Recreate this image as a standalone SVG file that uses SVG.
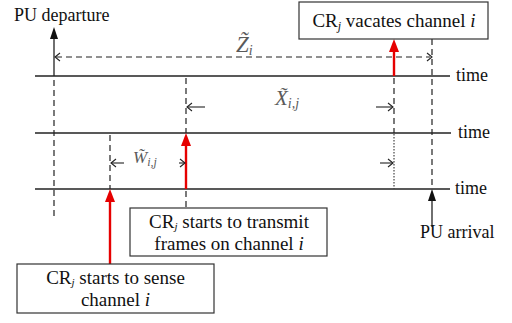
<svg xmlns="http://www.w3.org/2000/svg" width="512" height="323" viewBox="0 0 512 323">
<style>
text{fill:#111;font-family:'Liberation Serif','Times New Roman',serif !important}
.lbl{font-size:18px}
.bx{font-size:19px}
.math{font-style:italic;fill:#5a5a5a}
.tl{stroke:#222;stroke-width:1.3;fill:none}
.dash{stroke:#222;stroke-width:1.2;stroke-dasharray:6 4;fill:none}
.dot{stroke:#444;stroke-width:1.2;stroke-dasharray:1.5 1.5;fill:none}
.thin{stroke:#222;stroke-width:1.1;fill:none}
.red{stroke:#e60000;stroke-width:2.4;fill:none}
.box{fill:#fff;stroke:#333;stroke-width:1.2}
</style>
<g id="timelines">
<line class="tl" x1="35" y1="76" x2="450" y2="76"/>
<line class="tl" x1="35" y1="133" x2="451" y2="133"/>
<line class="tl" x1="35" y1="189" x2="450" y2="189"/>
<text class="lbl" x="456" y="81" style="font-family:'Liberation Serif',serif">time</text>
<text class="lbl" x="458" y="138" style="font-family:'Liberation Serif',serif">time</text>
<text class="lbl" x="455" y="194" style="font-family:'Liberation Serif',serif">time</text>
</g>
<g id="connectors">
<line class="tl" x1="54" y1="36" x2="54" y2="76"/>
<path d="M50,39 L54,27 L58,39 Z" fill="#111"/>
<line class="dash" x1="54" y1="80" x2="54" y2="220"/>
<line class="dash" x1="56" y1="57" x2="430" y2="57"/>
<path class="thin" d="M60,53 L55,57 L60,61"/>
<path class="thin" d="M427,53 L432,57 L427,61"/>
<line class="dash" x1="432" y1="39" x2="432" y2="189"/>
<line class="tl" x1="432" y1="198" x2="432" y2="227"/>
<path d="M428,201 L432,189 L436,201 Z" fill="#111"/>
<line class="red" x1="394" y1="76" x2="394" y2="50"/>
<path d="M389,52 L394,39 L399,52 Z" fill="#e60000"/>
<line class="dash" x1="394" y1="78" x2="394" y2="133"/>
<line class="dot" x1="394" y1="134" x2="394" y2="189"/>
<line class="thin" x1="187" y1="107" x2="205" y2="107"/>
<path class="thin" d="M192,103 L187,107 L192,111"/>
<line class="thin" x1="376" y1="107" x2="393" y2="107"/>
<path class="thin" d="M388,103 L393,107 L388,111"/>
<line class="dash" x1="186" y1="78" x2="186" y2="133"/>
<line class="red" x1="186" y1="189" x2="186" y2="144"/>
<path d="M181,146 L186,133 L191,146 Z" fill="#e60000"/>
<line class="dash" x1="186" y1="191" x2="186" y2="208"/>
<line class="dash" x1="110" y1="135" x2="110" y2="189"/>
<line class="red" x1="110" y1="264" x2="110" y2="200"/>
<path d="M105,202 L110,189 L115,202 Z" fill="#e60000"/>
<line class="thin" x1="111" y1="163" x2="124" y2="163"/>
<path class="thin" d="M116,159 L111,163 L116,167"/>
<line class="thin" x1="179" y1="163" x2="185" y2="163"/>
<path class="thin" d="M180,159 L185,163 L180,167"/>
<line class="thin" x1="380" y1="163" x2="393" y2="163"/>
<path class="thin" d="M388,159 L393,163 L388,167"/>
</g>
<g id="labels">
<text class="lbl" x="14" y="21" style="font-family:'Liberation Serif',serif">PU departure</text>
<text class="lbl" x="420" y="238" style="font-family:'Liberation Serif',serif">PU arrival</text>
<text class="math" x="236" y="52" font-size="23" style="font-family:'Liberation Serif',serif">Z̃<tspan font-size="14" dy="3">i</tspan></text>
<text class="math" x="275" y="105" font-size="21" style="font-family:'Liberation Serif',serif">X̃<tspan font-size="14" dy="3">i,j</tspan></text>
<text class="math" x="133" y="163" font-size="17" style="font-family:'Liberation Serif',serif">W̃<tspan font-size="12" dy="3">i,j</tspan></text>
</g>
<g id="node-vacates">
<rect class="box" x="299" y="2" width="189" height="37"/>
<text class="bx" x="394" y="27" text-anchor="middle" style="font-family:'Liberation Serif',serif">CR<tspan font-size="12" font-style="italic" dy="3">j</tspan><tspan dy="-3"> vacates channel </tspan><tspan font-style="italic">i</tspan></text>
</g>
<g id="node-transmit">
<rect class="box" x="130" y="208" width="197" height="48"/>
<text class="bx" x="229" y="228" text-anchor="middle" style="font-family:'Liberation Serif',serif">CR<tspan font-size="11" font-style="italic" dy="2">j</tspan><tspan dy="-2"> starts to transmit</tspan></text>
<text class="bx" x="229" y="250" text-anchor="middle" style="font-family:'Liberation Serif',serif">frames on channel <tspan font-style="italic">i</tspan></text>
</g>
<g id="node-sense">
<rect class="box" x="17" y="264" width="197" height="49"/>
<text class="bx" x="115.5" y="284" text-anchor="middle" style="font-family:'Liberation Serif',serif">CR<tspan font-size="11" font-style="italic" dy="2">j</tspan><tspan dy="-2"> starts to sense</tspan></text>
<text class="bx" x="115.5" y="306" text-anchor="middle" style="font-family:'Liberation Serif',serif">channel <tspan font-style="italic">i</tspan></text>
</g>
</svg>
